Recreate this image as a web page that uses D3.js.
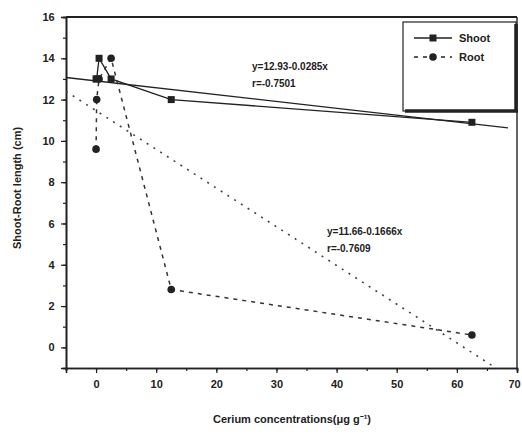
<!DOCTYPE html>
<html>
<head>
<meta charset="utf-8">
<script src="https://cdn.jsdelivr.net/npm/d3@7"></script>
<style>
  body { margin: 0; background: #fff; }
  svg { font-family: "Liberation Sans", Arial, sans-serif; }
  text { fill: #222; font-weight: bold; }
</style>
</head>
<body>
<svg width="522" height="434"></svg>
<script>
// data
var concX = [0, 0.1, 0.5, 2.5, 12.5, 62.5];
var shootY = [13, 13, 14, 13, 12, 10.9];
var rootY = [9.6, 12, 13, 14, 2.8, 0.6];
var fitShootX = [-5, 68.5], fitShootY = [13.07, 10.63];
var fitRootX = [-5, 66.5], fitRootY = [12.4, -1];
var xTicks = [0, 10, 20, 30, 40, 50, 60, 70];
var yTicks = [0, 2, 4, 6, 8, 10, 12, 14, 16];

var svg = d3.select("svg"),
    pLeft = 66, pTop = 17, pRight = 517, pBottom = 368,
    ink = "#222";

var x = d3.scaleLinear().domain([-5, 70]).range([pLeft, pRight]),
    y = d3.scaleLinear().domain([-1, 16]).range([pBottom, pTop]);

svg.append("defs").append("clipPath").attr("id", "clip")
  .append("rect").attr("x", pLeft).attr("y", pTop)
  .attr("width", pRight - pLeft).attr("height", pBottom - pTop);

// axes
var xAxis = svg.append("g").attr("transform", "translate(0," + pBottom + ")");
xAxis.call(d3.axisBottom(x).tickValues(d3.range(-5, 71, 5)).tickSize(3).tickFormat(""));
xAxis.append("g").call(d3.axisBottom(x).tickValues(xTicks).tickSize(5).tickFormat(d3.format("d")));
xAxis.selectAll("text").attr("font-size", 11).attr("dy", "1.1em");
// last label sits on the window edge, nudge it in a bit
xAxis.selectAll("text").filter(function(d) { return d === 70; }).attr("dx", -3);

var yAxis = svg.append("g").attr("transform", "translate(" + pLeft + ",0)");
yAxis.call(d3.axisLeft(y).tickValues(d3.range(-1, 17, 1)).tickSize(3).tickFormat(""));
yAxis.append("g").call(d3.axisLeft(y).tickValues(yTicks).tickSize(5).tickFormat(d3.format("d")));
yAxis.selectAll("text").attr("font-size", 11).attr("dx", "-0.3em");

svg.selectAll(".domain").attr("stroke", ink).attr("stroke-width", 1.6);
svg.selectAll(".tick line").attr("stroke", ink).attr("stroke-width", 1.2);

// frame top + right
svg.append("line").attr("x1", pLeft).attr("x2", pRight).attr("y1", pTop).attr("y2", pTop)
  .attr("stroke", ink).attr("stroke-width", 2);
svg.append("line").attr("x1", pRight).attr("x2", pRight).attr("y1", pTop).attr("y2", pBottom)
  .attr("stroke", ink).attr("stroke-width", 1.4);

var plot = svg.append("g").attr("clip-path", "url(#clip)");
var line = d3.line().x(function(d) { return x(d[0]); }).y(function(d) { return y(d[1]); });

// regression lines
plot.append("path").datum(d3.zip(fitShootX, fitShootY)).attr("d", line)
  .attr("fill", "none").attr("stroke", ink).attr("stroke-width", 1.3);
plot.append("path").datum(d3.zip(fitRootX, fitRootY)).attr("d", line)
  .attr("fill", "none").attr("stroke", "#444").attr("stroke-width", 1.6)
  .attr("stroke-dasharray", "2,6");

// data lines
plot.append("path").datum(d3.zip(concX, shootY)).attr("d", line)
  .attr("fill", "none").attr("stroke", ink).attr("stroke-width", 1.3);
plot.append("path").datum(d3.zip(concX, rootY)).attr("d", line)
  .attr("fill", "none").attr("stroke", "#333").attr("stroke-width", 1.5)
  .attr("stroke-dasharray", "4,5");

// markers
plot.selectAll(".sq").data(d3.zip(concX, shootY)).enter().append("rect")
  .attr("x", function(d) { return x(d[0]) - 3.5; })
  .attr("y", function(d) { return y(d[1]) - 3.5; })
  .attr("width", 7).attr("height", 7).attr("fill", ink);
plot.selectAll(".ci").data(d3.zip(concX, rootY)).enter().append("circle")
  .attr("cx", function(d) { return x(d[0]); })
  .attr("cy", function(d) { return y(d[1]); })
  .attr("r", 3.8).attr("fill", ink);

// equations
function eq(tx, ty, lines) {
  var t = svg.append("text").attr("x", tx).attr("y", ty).attr("font-size", 10);
  lines.forEach(function(s, i) {
    t.append("tspan").attr("x", tx).attr("dy", i ? 17 : 0).text(s);
  });
}
eq(252, 70, ["y=12.93-0.0285x", "r=-0.7501"]);
eq(327, 235, ["y=11.66-0.1666x", "r=-0.7609"]);

// legend
var lg = svg.append("g");
lg.append("rect").attr("x", 403).attr("y", 22).attr("width", 113).attr("height", 89)
  .attr("fill", "#fff").attr("stroke", ink).attr("stroke-width", 1.2);
lg.append("line").attr("x1", 405).attr("x2", 518).attr("y1", 111).attr("y2", 111)
  .attr("stroke", ink).attr("stroke-width", 3.5);
lg.append("line").attr("x1", 516).attr("x2", 516).attr("y1", 24).attr("y2", 112)
  .attr("stroke", ink).attr("stroke-width", 3.5);
lg.append("line").attr("x1", 414).attr("x2", 452).attr("y1", 38).attr("y2", 38)
  .attr("stroke", ink).attr("stroke-width", 1.3);
lg.append("rect").attr("x", 429.5).attr("y", 34.5).attr("width", 7).attr("height", 7).attr("fill", ink);
lg.append("line").attr("x1", 414).attr("x2", 452).attr("y1", 57).attr("y2", 57)
  .attr("stroke", ink).attr("stroke-width", 1.3).attr("stroke-dasharray", "4,5");
lg.append("circle").attr("cx", 433).attr("cy", 57).attr("r", 3.8).attr("fill", ink);
lg.append("text").attr("x", 459).attr("y", 42).attr("font-size", 11).text("Shoot");
lg.append("text").attr("x", 459).attr("y", 61).attr("font-size", 11).text("Root");

// axis titles
svg.append("text").attr("x", 292).attr("y", 423).attr("text-anchor", "middle")
  .attr("font-size", 11).text("Cerium concentrations(\u03bcg g\u207b\u00b9)");
svg.append("text").attr("transform", "translate(21,188) rotate(-90)")
  .attr("text-anchor", "middle").attr("font-size", 11).text("Shoot-Root length (cm)");
</script>
</body>
</html>
